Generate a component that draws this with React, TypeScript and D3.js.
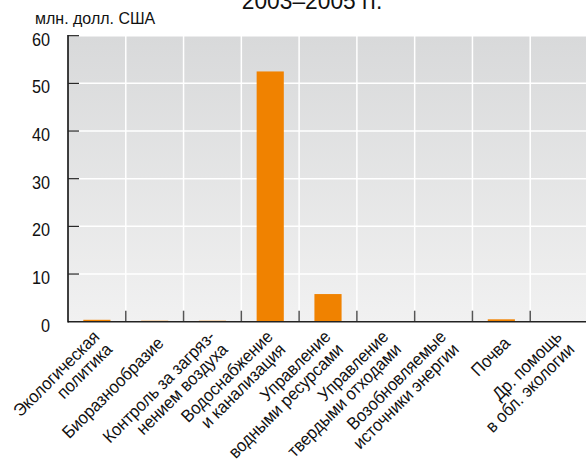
import React from 'react';
import * as d3 from 'd3';

// categories (line breaks as in the original labels)
const categories: string[][] = [
  ['Экологическая', 'политика'],
  ['Биоразнообразие'],
  ['Контроль за загряз-', 'нением воздуха'],
  ['Водоснабжение', 'и канализация'],
  ['Управление', 'водными ресурсами'],
  ['Управление', 'твердыми отходами'],
  ['Возобновляемые', 'источники энергии'],
  ['Почва'],
  ['Др. помощь', 'в обл. экологии'],
];

// млн. долл. США, 2003–2005 гг.
const values: number[] = [0.4, 0.2, 0.2, 52.5, 5.8, 0.08, 0.08, 0.5, 0.08];

const yTicks: number[] = [0, 10, 20, 30, 40, 50, 60];

const FONT = '"Liberation Sans", Arial, sans-serif';
// the original uses a condensed face; squeeze a regular one a little
const SQUEEZE = 0.93;

const width = 586;
const height = 461;
const margin = { top: 35.7, left: 68, right: -2, bottom: 139.3 };

const App: React.FC = () => {
  const keys = categories.map((c, i) => String(i));

  const x = d3.scaleBand<string>()
    .domain(keys)
    .range([margin.left, width - margin.right])
    .paddingInner(0)
    .paddingOuter(0);

  const y = d3.scaleLinear()
    .domain([0, 60])
    .range([height - margin.bottom, margin.top]);

  const bw = x.bandwidth();
  const barW = bw * 0.47;
  const y0 = y(0);

  return (
    <div style={{ position: 'absolute', left: 0, top: 0 }}>
      <svg width={width} height={height} style={{ display: 'block' }}>
        <defs>
          <linearGradient id="bg" x1="0" y1="0" x2="0" y2="1">
            <stop offset="0%" stopColor="#d8d9da" />
            <stop offset="100%" stopColor="#f1f1f1" />
          </linearGradient>
        </defs>

        {/* title, mostly cut off at the top */}
        <text transform={`translate(312,9) scale(${SQUEEZE},1)`} textAnchor="middle"
          fontFamily={FONT} fontSize={24.5} fill="#111">2003–2005 гг.</text>

        <text transform={`translate(35,24) scale(${SQUEEZE},1)`} fontFamily={FONT}
          fontSize={17.2} fill="#111">млн. долл. США</text>

        {/* plot background */}
        <rect x={margin.left} y={y(60)} width={width - margin.left}
          height={y0 - y(60)} fill="url(#bg)" />

        {/* horizontal grid */}
        {yTicks.filter(t => t > 0).map(t => (
          <line key={'h' + t} x1={margin.left} x2={width} y1={y(t)} y2={y(t)}
            stroke="#fff" strokeWidth={1.5} />
        ))}

        {/* vertical grid at band boundaries */}
        {keys.slice(1).map(k => (
          <line key={'v' + k} x1={x(k)!} x2={x(k)!} y1={y(60)} y2={y0}
            stroke="#fff" strokeWidth={1.5} />
        ))}

        {/* bars */}
        {values.map((v, i) => (
          <rect key={'b' + i}
            x={x(keys[i])! + (bw - barW) / 2}
            y={y(v)}
            width={barW}
            height={y0 - y(v)}
            fill="#f08200" />
        ))}

        {/* bottom tick marks */}
        {keys.slice(1).map(k => (
          <line key={'bt' + k} x1={x(k)!} x2={x(k)!} y1={y0 - 11} y2={y0}
            stroke="#555" strokeWidth={1.5} />
        ))}

        {/* baseline */}
        <line x1={margin.left} x2={width} y1={y0} y2={y0} stroke="#222" strokeWidth={1.6} />

        {/* y axis */}
        <line x1={margin.left} x2={margin.left} y1={y(60) - 0.7} y2={y0 + 0.8}
          stroke="#111" strokeWidth={1.6} />
        {yTicks.map(t => (
          <g key={'yt' + t}>
            {t > 0 && (
              <line x1={margin.left} x2={margin.left + 11} y1={y(t)} y2={y(t)}
                stroke="#222" strokeWidth={1.2} />
            )}
            <text transform={`translate(50,${y(t) + 10}) scale(${SQUEEZE},1)`}
              textAnchor="end" fontFamily={FONT} fontSize={17.5} fill="#111">{t}</text>
          </g>
        ))}

        {/* category labels */}
        {categories.map((lines, i) => {
          const cx = x(keys[i])! + bw / 2;
          return (
            <text key={'c' + i}
              transform={`translate(${cx},333) rotate(-45) scale(${SQUEEZE},1)`}
              textAnchor="end" fontFamily={FONT} fontSize={17.6} fill="#111">
              {lines.map((ln, j) => (
                <tspan key={j} x={-1}
                  y={15 + (j - (lines.length - 1) / 2) * 18}>{ln}</tspan>
              ))}
            </text>
          );
        })}
      </svg>
    </div>
  );
};

export default App;
